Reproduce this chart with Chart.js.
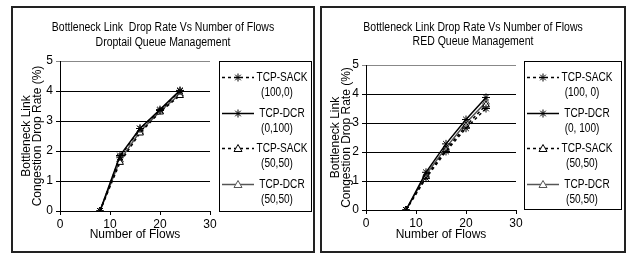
<!DOCTYPE html>
<html>
<head>
<meta charset="utf-8">
<script src="https://cdn.jsdelivr.net/npm/chart.js@4.4.1/dist/chart.umd.min.js"></script>
<style>
  body { margin: 0; background: #fff; width: 626px; height: 254px; position: relative; overflow: hidden; }
  .panel { position: absolute; top: 6px; height: 243px; border: 2px solid #222; background: #fff; }
  #p1 { left: 11px; width: 300px; }
  #p2 { left: 320px; width: 302px; }
  canvas { display: block; }
</style>
</head>
<body>
<div class="panel" id="p1"><canvas id="dropChart" width="300" height="243"></canvas></div>
<div class="panel" id="p2"><canvas id="redChart" width="302" height="243"></canvas></div>
<script>
// Number of flows (x values)
const flows = [8, 12, 16, 20, 24];
const xTicks = [0, 10, 20, 30];
const yTicks = [0, 1, 2, 3, 4, 5];

// Droptail queue management - drop rate (%)
const dropSack100 = [0, 1.8, 2.75, 3.35, 4.0];
const dropDcr100 = [0, 1.85, 2.75, 3.38, 4.02];
const dropSack50 = [0, 1.62, 2.6, 3.3, 3.85];
const dropDcr50 = [0, 1.7, 2.65, 3.32, 3.9];

// RED queue management - drop rate (%)
const redSack100 = [0, 1.1, 2.02, 2.82, 3.5];
const redDcr100 = [0, 1.3, 2.28, 3.12, 3.88];
const redSack50 = [0, 1.15, 2.08, 2.9, 3.62];
const redDcr50 = [0, 1.22, 2.15, 3.0, 3.72];

const seriesNames = ["TCP-SACK", "TCP-DCR", "TCP-SACK", "TCP-DCR"];
const dropMixes = ["(100,0)", "(0,100)", "(50,50)", "(50,50)"];
const redMixes = ["(100, 0)", "(0, 100)", "(50,50)", "(50,50)"];

const FONT = "'Liberation Sans', Arial, sans-serif";

// Styles for the four series
const styles = [
  { dash: [3, 3], point: "star", color: "#000" },
  { dash: [], point: "star", color: "#000" },
  { dash: [3, 3], point: "triangle", color: "#000" },
  { dash: [], point: "triangle", color: "#555" },
];

function drawMarker(ctx, style, x, y, color) {
  ctx.save();
  ctx.strokeStyle = color;
  ctx.lineWidth = 1;
  ctx.setLineDash([]);
  ctx.beginPath();
  if (style === "star") {
    const r = 4;
    ctx.moveTo(x - r, y); ctx.lineTo(x + r, y);
    ctx.moveTo(x, y - r); ctx.lineTo(x, y + r);
    ctx.moveTo(x - r * 0.7, y - r * 0.7); ctx.lineTo(x + r * 0.7, y + r * 0.7);
    ctx.moveTo(x - r * 0.7, y + r * 0.7); ctx.lineTo(x + r * 0.7, y - r * 0.7);
    ctx.stroke();
  } else {
    ctx.fillStyle = "#fff";
    ctx.moveTo(x, y - 4);
    ctx.lineTo(x + 4, y + 3);
    ctx.lineTo(x - 4, y + 3);
    ctx.closePath();
    ctx.fill();
    ctx.stroke();
  }
  ctx.restore();
}

// narrow-looking text: squeeze horizontally around the anchor
function narrowText(ctx, text, x, y, sx) {
  ctx.save();
  ctx.translate(x, y);
  ctx.scale(sx, 1);
  ctx.fillText(text, 0, 0);
  ctx.restore();
}

// Titles and boxed legend drawn on the canvas
const boxPlugin = {
  id: "boxPlugin",
  afterDraw(chart, args, opts) {
    const ctx = chart.ctx;
    ctx.save();
    ctx.fillStyle = "#000";
    ctx.font = "12.5px " + FONT;
    ctx.textAlign = "center";
    ctx.textBaseline = "middle";
    opts.title.forEach((t, i) => narrowText(ctx, t, opts.titleX, opts.titleY[i], 0.84));

    const lg = opts.legend;
    ctx.strokeStyle = "#000";
    ctx.lineWidth = 1;
    ctx.strokeRect(lg.x + 0.5, lg.y + 0.5, lg.w, lg.h);
    ctx.font = "12px " + FONT;
    chart.data.datasets.forEach((ds, i) => {
      const st = styles[i];
      const y = Math.round(lg.y + 16 + i * 35.5) + 0.5;
      ctx.save();
      ctx.strokeStyle = st.color;
      ctx.lineWidth = 1.5;
      ctx.setLineDash(st.dash);
      ctx.beginPath();
      ctx.moveTo(lg.x + 3, y);
      ctx.lineTo(lg.x + 35, y);
      ctx.stroke();
      ctx.restore();
      drawMarker(ctx, st.point, lg.x + 19, y, st.color);
      ctx.fillStyle = "#000";
      narrowText(ctx, seriesNames[i], lg.x + 63, y, 0.84);
      narrowText(ctx, opts.mixes[i], lg.x + 58, y + 15, 0.84);
    });
    ctx.restore();
  },
};

function makeChart(id, titleLines, mixes, series, geo) {
  const canvas = document.getElementById(id);
  const W = canvas.width, H = canvas.height;
  const datasets = series.map((vals, i) => ({
    label: seriesNames[i] + " " + mixes[i],
    data: flows.map((f, j) => ({ x: f, y: vals[j] })),
    borderColor: styles[i].color,
    borderWidth: 1.5,
    borderDash: styles[i].dash,
    pointStyle: styles[i].point,
    pointRadius: 4,
    pointBorderColor: styles[i].color,
    pointBackgroundColor: "#fff",
    pointBorderWidth: 1,
    fill: false,
    tension: 0,
  }));

  return new Chart(canvas.getContext("2d"), {
    type: "line",
    data: { datasets: datasets },
    plugins: [boxPlugin],
    options: {
      responsive: false,
      animation: false,
      layout: { padding: { left: 0, top: geo.top, right: W - geo.right, bottom: 0 } },
      plugins: {
        legend: { display: false },
        title: { display: false },
        tooltip: { enabled: false },
        boxPlugin: {
          title: titleLines,
          titleX: geo.titleX,
          titleY: geo.titleY,
          legend: geo.legend,
          mixes: mixes,
        },
      },
      scales: {
        x: {
          type: "linear",
          min: 0,
          max: 30,
          afterBuildTicks: (s) => { s.ticks = xTicks.map((v) => ({ value: v })); },
          afterFit: (s) => { s.height = H - geo.bottom; },
          ticks: { color: "#000", font: { family: FONT, size: 12 }, padding: 2 },
          grid: { drawOnChartArea: false, drawTicks: true, tickLength: 4, color: "#000" },
          border: { color: "#000", width: 1 },
          title: {
            display: true,
            text: "Number of Flows",
            color: "#000",
            font: { family: FONT, size: 12 },
            padding: { top: 0, bottom: 9 },
          },
        },
        y: {
          min: 0,
          max: 5,
          afterBuildTicks: (s) => { s.ticks = yTicks.map((v) => ({ value: v })); },
          afterFit: (s) => { s.width = geo.left; },
          ticks: { color: "#000", font: { family: FONT, size: 12 }, padding: 3 },
          grid: {
            color: (c) => (c.tick && c.tick.value === 5 ? "#888" : "#000"),
            tickLength: 4,
          },
          border: { color: "#000", width: 1 },
          title: {
            display: true,
            text: ["Bottleneck Link", "Congestion Drop Rate (%)"],
            color: "#000",
            font: { family: FONT, size: 12, lineHeight: 0.95 },
            padding: { top: 8, bottom: 0 },
          },
        },
      },
    },
  });
}

makeChart(
  "dropChart",
  ["Bottleneck Link  Drop Rate Vs Number of Flows", "Droptail Queue Management"],
  dropMixes,
  [dropSack100, dropDcr100, dropSack50, dropDcr50],
  { left: 47, right: 197, top: 53, bottom: 203, titleX: 150, titleY: [20, 35],
    legend: { x: 206, y: 53, w: 92, h: 150 } }
);

makeChart(
  "redChart",
  ["Bottleneck Link Drop Rate Vs Number of Flows", "RED Queue Management"],
  redMixes,
  [redSack100, redDcr100, redSack50, redDcr50],
  { left: 44, right: 194, top: 57, bottom: 202, titleX: 151, titleY: [20, 34],
    legend: { x: 202, y: 53, w: 97, h: 148 } }
);
</script>
</body>
</html>
